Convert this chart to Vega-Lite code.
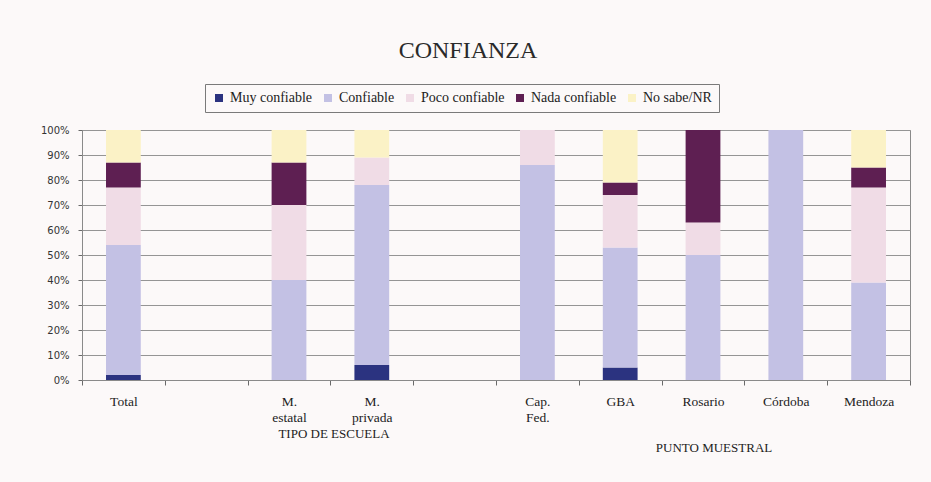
{
  "$schema": "https://vega.github.io/schema/vega-lite/v6.json",
  "width": 828,
  "height": 250,
  "autosize": "none",
  "padding": {"left": 82, "top": 130, "right": 21, "bottom": 102},
  "background": "#fcf9f9",
  "title": {
    "text": "CONFIANZA",
    "font": "Liberation Serif",
    "fontSize": 24,
    "fontWeight": "normal",
    "color": "#2a2a2a",
    "anchor": "middle",
    "frame": "group",
    "baseline": "alphabetic",
    "offset": 2,
    "dx": -28
  },
  "config": {
    "view": {"stroke": "#8a8a8a", "strokeWidth": 1},
    "axis": {"domainColor": "#8a8a8a", "tickColor": "#6a6a6a", "gridColor": "#959595", "gridOpacity": 1},
    "axisX": {
      "title": null,
      "labelAngle": 0,
      "labelExpr": "isString(datum.value) && !test(/^_/, datum.value) ? split(datum.value, ' ') : ''",
      "labelFont": "Liberation Serif",
      "labelFontSize": 13.5,
      "labelColor": "#222222",
      "labelBaseline": "alphabetic",
      "labelLineHeight": 16,
      "labelPadding": 20,
      "tickBand": "extent",
      "tickSize": 5,
      "grid": false
    },
    "axisY": {
      "title": null,
      "tickCount": 10,
      "labelExpr": "datum.value + '%'",
      "labelFont": "DejaVu Sans",
      "labelFontSize": 10,
      "labelColor": "#333333",
      "labelPadding": 9,
      "labelOverlap": false,
      "tickSize": 4,
      "grid": true
    }
  },
  "encoding": {
    "x": {
      "field": "cat",
      "type": "nominal",
      "title": null,
      "scale": {
        "domain": ["Total", "_a", "M. estatal", "M. privada", "_b", "Cap. Fed.", "GBA", "Rosario", "Córdoba", "Mendoza"],
        "paddingInner": 0,
        "paddingOuter": 0
      }
    }
  },
  "layer": [
    {
      "data": {
        "values": [
          {"cat": "Total", "resp": "Muy confiable", "k": 1, "v": 2},
          {"cat": "Total", "resp": "Confiable", "k": 2, "v": 52},
          {"cat": "Total", "resp": "Poco confiable", "k": 3, "v": 23},
          {"cat": "Total", "resp": "Nada confiable", "k": 4, "v": 10},
          {"cat": "Total", "resp": "No sabe/NR", "k": 5, "v": 13},
          {"cat": "M. estatal", "resp": "Confiable", "k": 2, "v": 40},
          {"cat": "M. estatal", "resp": "Poco confiable", "k": 3, "v": 30},
          {"cat": "M. estatal", "resp": "Nada confiable", "k": 4, "v": 17},
          {"cat": "M. estatal", "resp": "No sabe/NR", "k": 5, "v": 13},
          {"cat": "M. privada", "resp": "Muy confiable", "k": 1, "v": 6},
          {"cat": "M. privada", "resp": "Confiable", "k": 2, "v": 72},
          {"cat": "M. privada", "resp": "Poco confiable", "k": 3, "v": 11},
          {"cat": "M. privada", "resp": "No sabe/NR", "k": 5, "v": 11},
          {"cat": "Cap. Fed.", "resp": "Confiable", "k": 2, "v": 86},
          {"cat": "Cap. Fed.", "resp": "Poco confiable", "k": 3, "v": 14},
          {"cat": "GBA", "resp": "Muy confiable", "k": 1, "v": 5},
          {"cat": "GBA", "resp": "Confiable", "k": 2, "v": 48},
          {"cat": "GBA", "resp": "Poco confiable", "k": 3, "v": 21},
          {"cat": "GBA", "resp": "Nada confiable", "k": 4, "v": 5},
          {"cat": "GBA", "resp": "No sabe/NR", "k": 5, "v": 21},
          {"cat": "Rosario", "resp": "Confiable", "k": 2, "v": 50},
          {"cat": "Rosario", "resp": "Poco confiable", "k": 3, "v": 13},
          {"cat": "Rosario", "resp": "Nada confiable", "k": 4, "v": 37},
          {"cat": "Córdoba", "resp": "Confiable", "k": 2, "v": 100},
          {"cat": "Mendoza", "resp": "Confiable", "k": 2, "v": 39},
          {"cat": "Mendoza", "resp": "Poco confiable", "k": 3, "v": 38},
          {"cat": "Mendoza", "resp": "Nada confiable", "k": 4, "v": 8},
          {"cat": "Mendoza", "resp": "No sabe/NR", "k": 5, "v": 15}
        ]
      },
      "mark": {"type": "bar", "width": {"band": 0.42}},
      "encoding": {
        "y": {
          "field": "v",
          "type": "quantitative",
          "stack": "zero",
          "title": null,
          "scale": {"domain": [0, 100]}
        },
        "color": {
          "field": "resp",
          "type": "nominal",
          "scale": {
            "domain": ["Muy confiable", "Confiable", "Poco confiable", "Nada confiable", "No sabe/NR"],
            "range": ["#2b3380", "#c3c1e4", "#f0dce6", "#5e1f52", "#fbf2c6"]
          },
          "legend": {
            "title": null,
            "orient": "none",
            "direction": "horizontal",
            "legendX": 123,
            "legendY": -46,
            "symbolType": "square",
            "symbolSize": 64,
            "symbolStrokeWidth": 0,
            "labelFont": "Liberation Serif",
            "labelFontSize": 14,
            "labelColor": "#222222",
            "labelOffset": 4,
            "columnPadding": 8,
            "padding": 7,
            "strokeColor": "#7a7a7a"
          }
        },
        "order": {"field": "k", "type": "quantitative", "sort": "ascending"}
      }
    },
    {
      "data": {"values": [{"t": "TIPO DE ESCUELA", "cat": "M. estatal"}]},
      "mark": {"type": "text", "font": "Liberation Serif", "fontSize": 13, "color": "#222222", "baseline": "alphabetic", "align": "center", "dx": 45, "dy": 58},
      "encoding": {
        "y": {"datum": 0, "type": "quantitative", "title": null},
        "text": {"field": "t"}
      }
    },
    {
      "data": {"values": [{"t": "PUNTO MUESTRAL", "cat": "Rosario"}]},
      "mark": {"type": "text", "font": "Liberation Serif", "fontSize": 13, "color": "#222222", "baseline": "alphabetic", "align": "center", "dx": 11, "dy": 72},
      "encoding": {
        "y": {"datum": 0, "type": "quantitative", "title": null},
        "text": {"field": "t"}
      }
    }
  ]
}
